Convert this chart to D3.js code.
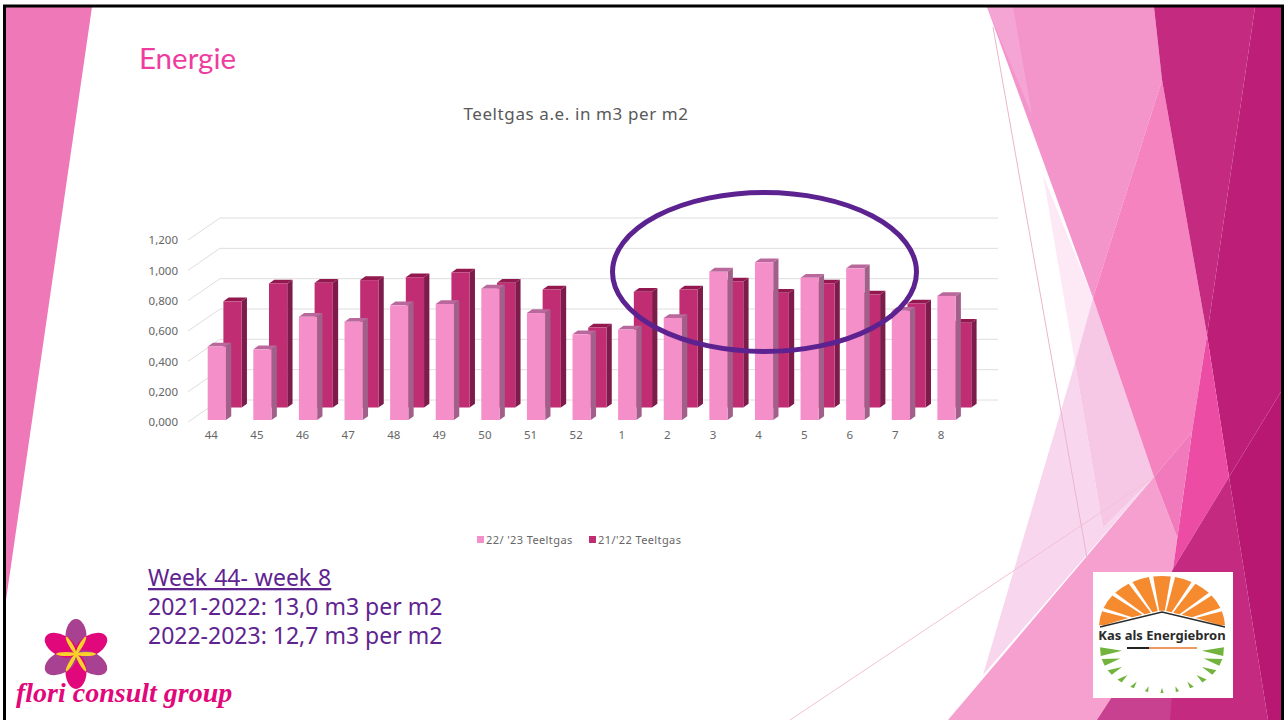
<!DOCTYPE html>
<html>
<head>
<meta charset="utf-8">
<script src="https://cdnjs.cloudflare.com/ajax/libs/d3/7.8.5/d3.min.js"></script>
<style>
  html, body { margin: 0; padding: 0; background: #fff; }
  svg { display: block; }
  text { font-family: "Noto Sans", sans-serif; }
</style>
</head>
<body>
<svg id="slide" width="1284" height="720"></svg>
<script>
const weeks = ['44', '45', '46', '47', '48', '49', '50', '51', '52', '1', '2', '3', '4', '5', '6', '7', '8'];
const teeltgas2223 = [0.484, 0.466, 0.68, 0.648, 0.756, 0.765, 0.866, 0.705, 0.565, 0.596, 0.673, 0.978, 1.04, 0.938, 1.0, 0.72, 0.818];
const teeltgas2122 = [0.70, 0.818, 0.822, 0.84, 0.859, 0.89, 0.822, 0.778, 0.527, 0.763, 0.778, 0.831, 0.756, 0.818, 0.745, 0.686, 0.558];
const yTicks = [0, 0.2, 0.4, 0.6, 0.8, 1.0, 1.2];
const legendLabels = ['22/ \'23 Teeltgas', '21/\'22 Teeltgas'];
const summaryLines = ['Week 44- week 8', '2021-2022: 13,0 m3 per m2', '2022-2023: 12,7 m3 per m2'];

const svg = d3.select('#slide');

// slide background, back to front
const shapes = [
  ['#ef78b8', [[6, 7], [92, 7], [6, 600]]],
  ['#fde9f5', [[1043, 175], [1093, 298], [1075, 363]]],
  ['#f8d6ee', [[1075, 363], [1103, 528], [1154, 477], [983, 675]]],
  ['#f7c8e6', [[1075, 363], [1093, 298], [1154, 477], [1103, 528]]],
  ['#f394cb', [[987, 7], [1154, 7], [1162, 80], [1093, 298]]],
  ['#f5a5d4', [[987, 7], [1013, 7], [1032, 115]]],
  ['#f6a0d0', [[1154, 477], [1177, 537], [1173, 569], [1103, 720], [948, 720]]],
  ['#f583c0', [[1162, 80], [1207, 335], [1192, 432], [1154, 477], [1093, 298]]],
  ['#c42a80', [[1154, 7], [1255, 7], [1207, 335], [1162, 80]]],
  ['#bd1e78', [[1255, 7], [1282, 7], [1282, 390], [1229, 477], [1207, 335]]],
  ['#ed4ca5', [[1207, 335], [1229, 477], [1173, 569], [1192, 432]]],
  ['#f07abb', [[1192, 432], [1173, 569], [1177, 537], [1154, 477]]],
  ['#c42a80', [[1229, 477], [1268, 720], [1103, 720], [1173, 569]]],
  ['#c84090', [[1173, 680], [1170, 720], [1097, 720], [1112, 697]]],
  ['#b81772', [[1282, 390], [1229, 477], [1268, 720], [1282, 720]]]
];
svg.append('g').selectAll('polygon').data(shapes).enter().append('polygon')
  .attr('points', d => d[1].join(' '))
  .attr('fill', d => d[0]);

// the two thin lines over the background
const thin = d3.line();
svg.append('path').attr('d', thin([[993, 27], [1087, 558]])).attr('stroke', '#eab6cf').attr('fill', 'none');
svg.append('path').attr('d', thin([[790, 720], [1154, 477]])).attr('stroke', '#f3c0d6').attr('fill', 'none');

// slide border
svg.append('path').attr('d', 'M4.5 720V6H1282.5V720').attr('fill', 'none').attr('stroke', '#000').attr('stroke-width', 3);

svg.append('text').attr('x', 139).attr('y', 69).attr('font-size', 29.5)
  .style('font-family', 'Lato').attr('fill', '#ee3d9f').text('Energie');
svg.append('text').attr('x', 576).attr('y', 120).attr('font-size', 17).attr('text-anchor', 'middle')
  .attr('letter-spacing', 0.6).attr('fill', '#595959').text('Teeltgas a.e. in m3 per m2');

// chart
const x = d3.scaleBand().domain(weeks).range([207.7, 955.6]).paddingInner(0.6).paddingOuter(0);
const y = d3.scaleLinear().domain([0, 1.2]).range([420, 238]);
const wallDx = 32, wallDy = -20, backDx = 15.7, backDy = -12.5, sideDx = 5.3, sideDy = -3.8;

const grid = svg.append('g').attr('stroke', '#dedede').attr('fill', 'none');
grid.selectAll('.wall').data(yTicks).enter().append('path').attr('class', 'wall')
  .attr('d', d => thin([[188, y(d) + 2], [188 + wallDx, y(d) + wallDy], [998, y(d) + wallDy]]));

const yAxis = d3.axisLeft(y).tickValues(yTicks).tickSize(0).tickPadding(0)
  .tickFormat(d => d3.format('.3f')(d).replace('.', ','));
const yG = svg.append('g').attr('transform', 'translate(178,2)').call(yAxis);
yG.select('.domain').remove();
yG.selectAll('text').attr('font-size', 11.5).attr('fill', '#666');

const xAxis = d3.axisBottom(x).tickSize(0).tickPadding(0);
const xG = svg.append('g').attr('transform', 'translate(-5.5,431)').call(xAxis);
xG.select('.domain').remove();
xG.selectAll('text').attr('font-size', 11.5).attr('fill', '#666');

const bw = x.bandwidth();
function drawBars(values, dx, dy, face, side, top) {
  const g = svg.append('g').attr('transform', `translate(${dx},${dy})`);
  const bar = g.selectAll('g').data(values).enter().append('g')
    .attr('transform', (d, i) => `translate(${x(weeks[i])},0)`);
  bar.append('polygon').attr('fill', side)
    .attr('points', d => [[bw, y(d)], [bw + sideDx, y(d) + sideDy], [bw + sideDx, y(0) + sideDy], [bw, y(0)]].join(' '));
  bar.append('polygon').attr('fill', top)
    .attr('points', d => [[0, y(d)], [sideDx, y(d) + sideDy], [bw + sideDx, y(d) + sideDy], [bw, y(d)]].join(' '));
  bar.append('rect').attr('fill', face).attr('width', bw)
    .attr('y', d => y(d)).attr('height', d => y(0) - y(d));
}
drawBars(teeltgas2122, backDx, backDy, '#c02d72', '#7d1b4b', '#92184f');
drawBars(teeltgas2223, 0, 0, '#f48fca', '#a1608a', '#b9689c');

// legend
const legendX = [477, 589], legendColors = ['#f48fca', '#c02d72'];
const legend = svg.append('g').selectAll('g').data(legendLabels).enter().append('g')
  .attr('transform', (d, i) => `translate(${legendX[i]},536)`);
legend.append('rect').attr('width', 7).attr('height', 7).attr('fill', (d, i) => legendColors[i]);
legend.append('text').attr('x', 9).attr('y', 7.5).attr('font-size', 11).attr('letter-spacing', 0.4)
  .attr('fill', '#666').text(d => d);

// purple circle round the weeks
svg.append('ellipse').attr('cx', 764.5).attr('cy', 272).attr('rx', 152).attr('ry', 79.5)
  .attr('fill', 'none').attr('stroke', '#5c2390').attr('stroke-width', 5);

// summary
svg.append('g').selectAll('text').data(summaryLines).enter().append('text')
  .attr('x', 148).attr('y', (d, i) => 586 + i * 29).attr('font-size', 23).attr('fill', '#5f2490')
  .attr('word-spacing', (d, i) => i === 0 ? 1 : 0)
  .attr('text-decoration', (d, i) => i === 0 ? 'underline' : null).text(d => d);

// flori consult logo
const flower = svg.append('g').attr('transform', 'translate(76,654)');
d3.range(6).forEach(i => {
  flower.append('ellipse').attr('cy', -17.5).attr('rx', 10.5).attr('ry', 17.5)
    .attr('fill', i % 2 ? '#e0087a' : '#a84192').attr('transform', `rotate(${i * 60})`);
});
d3.range(6).forEach(i => {
  flower.append('ellipse').attr('cy', -10).attr('rx', 2).attr('ry', 10)
    .attr('fill', '#fbd22a').attr('transform', `rotate(${i * 60 + 30})`);
});
svg.append('text').attr('x', 16).attr('y', 702).attr('font-size', 28).attr('font-weight', 'bold')
  .attr('font-style', 'italic').style('font-family', 'Liberation Serif').attr('fill', '#e0087a')
  .text('flori consult group');

// kas als energiebron logo
const logo = svg.append('g');
logo.append('rect').attr('x', 1093).attr('y', 572).attr('width', 140).attr('height', 126).attr('fill', '#fff');
const ex = 1162, ey = 627;
d3.range(9).forEach(i => {
  const a0 = Math.PI * (i + 0.1) / 9, a1 = Math.PI * (i + 0.9) / 9;
  const pt = (a, t) => [ex - t * 63 * Math.cos(a), ey - t * 51 * Math.sin(a)];
  // rays start just above the roof line
  const inner = a => pt(a, Math.min(0.92, 17 / (51 * Math.sin(a) + 15.1 * Math.abs(Math.cos(a)))));
  logo.append('polygon').attr('fill', '#f58a2e')
    .attr('points', [inner(a0), pt(a0, 1), pt((a0 + a1) / 2, 1), pt(a1, 1), inner(a1)].join(' '));
});
logo.append('path').attr('d', thin([[1100, 627], [1162, 612], [1225, 627]]))
  .attr('fill', 'none').attr('stroke', '#2b2b2b').attr('stroke-width', 1.5);
logo.append('text').attr('x', 1162).attr('y', 640).attr('text-anchor', 'middle').attr('font-size', 13)
  .attr('font-weight', 'bold').attr('fill', '#2b2b2b').text('Kas als Energiebron');
logo.append('rect').attr('x', 1127).attr('y', 647).attr('width', 22).attr('height', 2).attr('fill', '#222');
logo.append('rect').attr('x', 1149).attr('y', 647).attr('width', 48).attr('height', 2).attr('fill', '#ec9a63');
const gx = 1162, gy = 648;
d3.range(13).forEach(i => {
  const a = 0.06 + (Math.PI - 0.12) * i / 12, s = Math.sin(a);
  const half = 0.025 + 0.08 * (1 - s);
  const pt = (b, r) => [gx - r * 62 * Math.cos(b), gy + r * 44 * Math.sin(b) + 1];
  const rIn = 1 - (0.37 - 0.25 * s);
  logo.append('polygon').attr('fill', '#72b33e')
    .attr('points', [pt(a, rIn), pt(a - half, 1), pt(a + half, 1)].join(' '));
});
</script>
</body>
</html>
